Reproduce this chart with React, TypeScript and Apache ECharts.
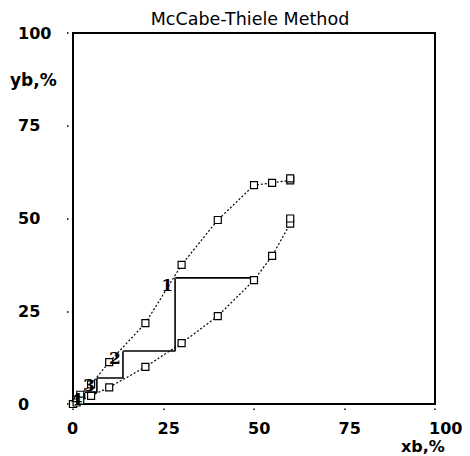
import React, { useEffect, useRef } from "react";
import * as echarts from "echarts";

// Composition (x, %) shared by both curves
const xValues = [0, 1, 2, 5, 10, 20, 30, 40, 50, 55, 60, 60];
// Upper (equilibrium) curve y, %
const upperY = [0, 1.2, 2.5, 5.3, 11.3, 21.8, 37.5, 49.6, 59.0, 59.6, 60.3, 60.8];
// Lower (operating) curve y, %
const lowerY = [0, 0.4, 0.9, 2.2, 4.5, 10.0, 16.4, 23.7, 33.4, 39.9, 48.6, 50.0];
// Staircase vertices
const stepX = [50, 28.2, 28.2, 13.8, 13.8, 6.6, 6.6, 3.2, 3.2, 1.4, 1.4, 0.6];
const stepY = [34, 34, 14.3, 14.3, 7.0, 7.0, 3.2, 3.2, 1.4, 1.4, 0.6, 0.6];
// Stage numbers and their corners
const stageLabels = ["1", "2", "3", "4"];
const stageX = [28.2, 13.8, 6.6, 3.2];
const stageY = [34, 14.3, 7.0, 3.2];
// Axis ticks
const tickValues = [0, 25, 50, 75, 100];

const labelFont = {
  fontFamily: "DejaVu Sans",
  fontWeight: "bold" as const,
  fontSize: 16,
  color: "#000",
};

export default function App() {
  const ref = useRef<HTMLDivElement>(null);
  useEffect(() => {
    if (!ref.current) return;
    const chart = echarts.init(ref.current, null, { renderer: "svg" });
    const pairs = (xs: number[], ys: number[]) => xs.map((x, i) => [x, ys[i]]);
    const tickLine = { show: true, length: 7, lineStyle: { color: "#000", width: 1.5, type: [0, 4.5, 1.5, 20] as any } };
    chart.setOption({
      animation: false,
      backgroundColor: "#fff",
      grid: { left: 73, right: 35, top: 33, bottom: 52, show: true, borderColor: "#000", borderWidth: 2, backgroundColor: "transparent" },
      graphic: [
        { type: "text", x: 250, y: 10, style: { text: "McCabe-Thiele Method", fontFamily: "DejaVu Sans", fontSize: 17.5, fill: "#000", textAlign: "center" } },
        { type: "text", x: 10, y: 80, style: { text: "yb,%", ...labelFont, fontSize: 17, fill: "#000", textVerticalAlign: "middle" } },
        { type: "text", x: 401, y: 446, style: { text: "xb,%", ...labelFont, fontSize: 16, fill: "#000", textVerticalAlign: "middle" } },
      ],
      xAxis: {
        type: "value",
        min: tickValues[0],
        max: tickValues[tickValues.length - 1],
        interval: 25,
        axisLine: { show: true, lineStyle: { color: "#000", width: 2 } },
        axisTick: tickLine,
        splitLine: { show: false },
        axisLabel: { ...labelFont, align: "left", margin: 16, padding: [0, 0, 0, -6] },
      },
      yAxis: {
        type: "value",
        min: tickValues[0],
        max: tickValues[tickValues.length - 1],
        interval: 25,
        axisLine: { show: true, lineStyle: { color: "#000", width: 2 } },
        axisTick: tickLine,
        splitLine: { show: false },
        axisLabel: { ...labelFont, align: "left", margin: 55 },
      },
      series: [
        {
          name: "equilibrium",
          type: "line",
          data: pairs(xValues, upperY),
          symbol: "rect",
          symbolSize: 7,
          itemStyle: { color: "#fff", borderColor: "#000", borderWidth: 1.2 },
          lineStyle: { color: "#000", width: 1.2, type: [2, 2] },
          z: 3,
        },
        {
          name: "operating",
          type: "line",
          data: pairs(xValues, lowerY),
          symbol: "rect",
          symbolSize: 7,
          itemStyle: { color: "#fff", borderColor: "#000", borderWidth: 1.2 },
          lineStyle: { color: "#000", width: 1.2, type: [2, 2] },
          z: 3,
        },
        {
          name: "steps",
          type: "line",
          data: pairs(stepX, stepY),
          symbol: "none",
          lineStyle: { color: "#000", width: 1.6 },
          z: 2,
        },
        {
          name: "stages",
          type: "scatter",
          data: stageLabels.map((s, i) => ({ value: [stageX[i], stageY[i]], name: s })),
          symbolSize: 1,
          itemStyle: { color: "#fff", opacity: 1 },
          label: {
            show: true,
            formatter: (p: any) => p.name,
            position: "inside",
            offset: [-8, 7],
            fontFamily: "DejaVu Serif",
            fontWeight: "bold",
            fontSize: 17,
            color: "#000",
            opacity: 1,
          },
          z: 4,
        },
      ],
    });
    return () => chart.dispose();
  }, []);
  return <div ref={ref} style={{ position: "fixed", left: 0, top: 0, width: 470, height: 456 }} />;
}
